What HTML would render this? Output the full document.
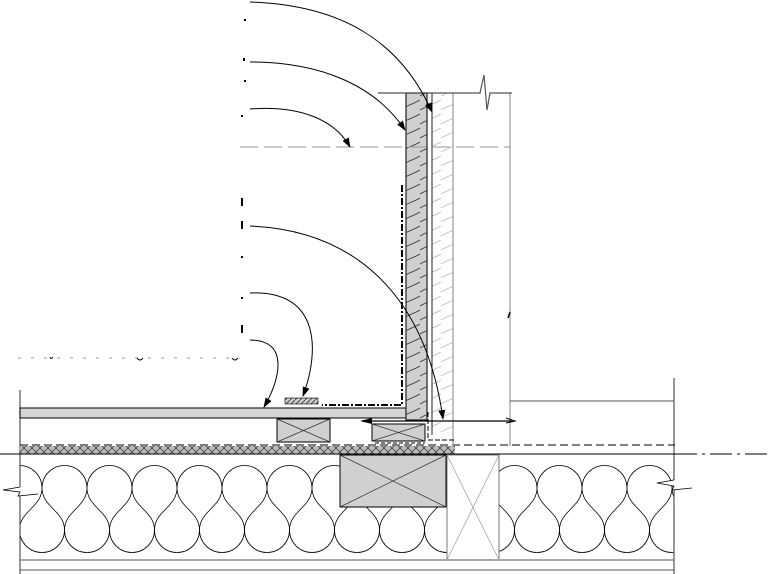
<!DOCTYPE html>
<html><head><style>html,body{margin:0;padding:0;background:#fff}svg{display:block}</style></head>
<body>
<svg width="770" height="574" viewBox="0 0 770 574" xmlns="http://www.w3.org/2000/svg">
<defs>
<pattern id="ins" x="-3" y="455" width="45" height="100" patternUnits="userSpaceOnUse">
<g fill="none" stroke="#000" stroke-width="0.8">
<path d="M0 33 A22.5 22.5 0 0 1 45 33"/>
<path d="M0 33 C0 52 22.5 56 22.5 75"/>
<path d="M45 33 C45 52 22.5 56 22.5 75"/>
<path d="M-22.5 75 A22.5 22.5 0 0 0 22.5 75"/>
<path d="M22.5 75 A22.5 22.5 0 0 0 67.5 75"/>
</g>
</pattern>
<pattern id="hx" width="8" height="8" patternUnits="userSpaceOnUse">
<rect width="8" height="8" fill="#bbb"/><path d="M0 0L8 8M8 0L0 8" stroke="#333" stroke-width="0.7"/>
</pattern>
<pattern id="wd" width="21" height="14" patternUnits="userSpaceOnUse">
<rect width="21" height="14" fill="#d0d0d0"/><path d="M0 12 C7 8 14 6 21 2" stroke="#333" fill="none" stroke-width="0.8"/>
</pattern>
<pattern id="wl" width="21" height="14" patternUnits="userSpaceOnUse">
<path d="M0 12 C7 8 14 6 21 2" stroke="#bbb" fill="none" stroke-width="0.8"/>
</pattern>
<pattern id="ph" width="5" height="5" patternUnits="userSpaceOnUse"><rect width="5" height="5" fill="#ccc"/><path d="M0 5L5 0" stroke="#333" stroke-width="0.8"/></pattern>
<marker id="ah" markerWidth="10" markerHeight="10" refX="9" refY="3.5" orient="auto" markerUnits="userSpaceOnUse"><path d="M0 0L10 3.5L0 7Z" fill="#000"/></marker>
</defs>

<!-- insulation -->
<rect x="20" y="455" width="427" height="100" fill="url(#ins)"/>
<rect x="499" y="455" width="175" height="100" fill="url(#ins)"/>
<rect x="340" y="455" width="106" height="52" fill="#d0d0d0" stroke="#000"/>
<path d="M340 455L446 507M340 507L446 455" stroke="#333" stroke-width="0.7"/>
<rect x="447" y="455" width="52" height="105" fill="#fff" stroke="#777"/>
<path d="M447 455L499 560M499 455L447 560" stroke="#999" stroke-width="0.7"/>
<line x1="20" y1="560" x2="674" y2="560" stroke="#aaa" stroke-width="2"/>
<line x1="20" y1="570" x2="674" y2="570" stroke="#555"/>
<line x1="20" y1="390" x2="20" y2="574" stroke="#555" stroke-width="1.2"/>
<line x1="674" y1="378" x2="674" y2="574" stroke="#555" stroke-width="1.2"/>
<path d="M20 487 L3 490 L20 492 L18 496 L38 494" fill="#fff" stroke="#000" stroke-width="0.8"/>
<path d="M674 480 L657 483 L674 486 L672 490 L692 488" fill="#fff" stroke="#000" stroke-width="0.8"/>

<!-- hatch layer -->
<rect x="20" y="446" width="435" height="8" fill="url(#hx)"/>
<line x1="0" y1="454" x2="675" y2="454" stroke="#000" stroke-width="1"/>
<path d="M675 454H770" stroke="#000" stroke-dasharray="22 5 3 5"/>
<path d="M20 445H675" stroke="#000" stroke-dasharray="8 4"/>

<!-- floor board & blocks -->
<rect x="20" y="408" width="405" height="10" fill="#d4d4d4" stroke="#000"/>
<rect x="277" y="419" width="53" height="23" fill="#d0d0d0" stroke="#000"/>
<path d="M277 419L330 442M277 442L330 419" stroke="#333" stroke-width="0.7"/>
<rect x="372" y="424" width="53" height="17" fill="#d0d0d0" stroke="#000"/>
<path d="M372 424L425 441M372 441L425 424" stroke="#333" stroke-width="0.7"/>
<path d="M375 443H425" stroke="#000" stroke-dasharray="4 2"/>

<!-- wall -->
<rect x="406" y="93" width="21" height="327" fill="url(#wd)" stroke="#222" stroke-width="1.2"/>
<rect x="432" y="93" width="21" height="342" fill="url(#wl)" stroke="none"/>
<line x1="432" y1="93" x2="432" y2="435" stroke="#222"/>
<line x1="453" y1="93" x2="453" y2="446" stroke="#999" stroke-width="1.2"/>
<line x1="510" y1="93" x2="510" y2="446" stroke="#999" stroke-width="1.2"/>
<line x1="510" y1="401" x2="674" y2="401" stroke="#555"/>
<path d="M378 93H480L484 75L487 110L490 93H512" fill="none" stroke="#555" stroke-width="1.2"/>
<path d="M240 147H510" stroke="#999" stroke-dasharray="18 6"/>
<path d="M428 412V440H455" fill="none" stroke="#000" stroke-dasharray="5 2"/>

<!-- membrane dash-dot -->
<path d="M402 185V405H322" fill="none" stroke="#000" stroke-width="2" stroke-dasharray="7 2 2 2"/>
<rect x="285" y="398" width="33" height="6" fill="url(#ph)" stroke="#000" stroke-width="0.6"/>

<!-- long arrow -->
<line x1="362" y1="421" x2="512" y2="421" stroke="#000" stroke-width="1.2"/>
<path d="M360 421L372 418L372 424Z" fill="#000"/>
<path d="M506 418L515 421L506 423" fill="none" stroke="#000"/>
<path d="M508 318L510 312" stroke="#000" stroke-width="1.5"/>

<!-- leader arrows -->
<g fill="none" stroke="#000" stroke-width="1" marker-end="url(#ah)">
<path d="M250 2 C340 5 400 40 432 112"/>
<path d="M250 62 C320 62 375 85 405 130"/>
<path d="M250 109 C300 105 335 120 350 147"/>
<path d="M250 226 C350 230 425 290 443 419"/>
<path d="M250 293 C320 290 320 350 303 396"/>
<path d="M250 340 C290 340 280 380 264 407"/>
</g>

<!-- tiny label remnants -->
<g fill="#000">
<rect x="244" y="19" width="2" height="2"/>
<rect x="243" y="58" width="2" height="3"/>
<rect x="244" y="80" width="2" height="2"/>
<rect x="241" y="115" width="2" height="2"/>
<rect x="241" y="198" width="2" height="8"/>
<rect x="241" y="221" width="2" height="8"/>
<rect x="241" y="256" width="2" height="2"/>
<rect x="241" y="297" width="2" height="2"/>
<rect x="241" y="325" width="2" height="8"/>
</g>
<g stroke="#999" stroke-width="1" stroke-dasharray="3 10"><path d="M18 358H240"/></g>
<path d="M50 357q1 3 3 0M137 358q3 4 6 0M232 358q3 4 6 0" stroke="#000" fill="none"/>
</svg>
</body></html>
